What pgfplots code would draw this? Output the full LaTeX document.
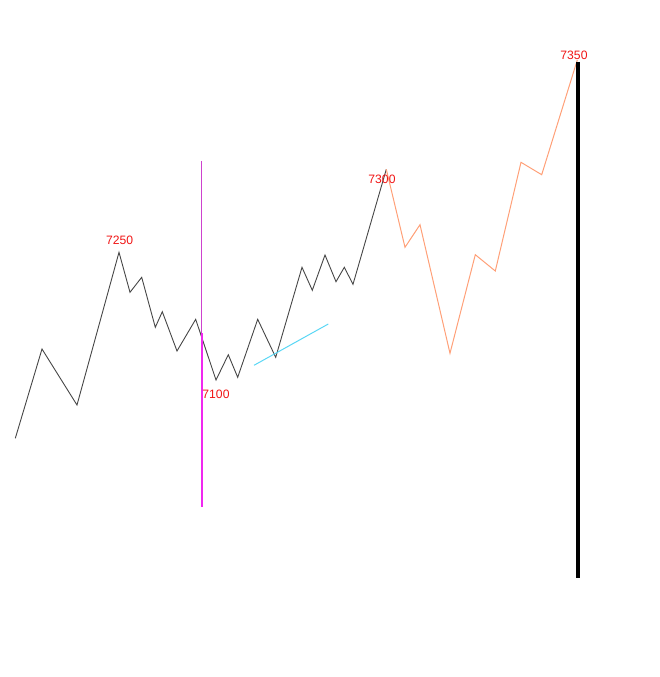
\documentclass[border=0pt]{standalone}
\usepackage{pgfplots}
\pgfplotsset{compat=1.18}
\usepackage{fontspec}
\setmainfont{Liberation Sans}
\definecolor{lblred}{RGB}{240,20,20}
\definecolor{orng}{RGB}{255,160,120}
\definecolor{cyn}{RGB}{90,215,245}
\definecolor{mag}{RGB}{240,40,240}
\definecolor{dgray}{RGB}{70,70,70}
\begin{document}
\begin{tikzpicture}
\begin{axis}[
  width=660bp, height=677bp, scale only axis,
  xmin=0, xmax=660, ymin=0, ymax=677, y dir=reverse,
  hide axis, clip=false,
]
\addplot[draw=none, forget plot] coordinates {(0,0) (660,677)};
% main black line
\addplot[dgray, line width=0.9bp, line join=miter] coordinates {
(15.3,438.3) (42,349) (77,405) (119,252.3) (130,292.3) (141.7,277.3)
(155.3,327.3) (162.3,311.7) (177,351) (195.7,319.3) (216,380)
(228.3,354.7) (237.7,377.3) (257.7,319.3) (275.7,357.3) (302,267.3)
(312.3,290.3) (325,255) (336,281.7) (344.3,267.3) (353,284.3) (386.3,169.3)
};
% orange continuation
\addplot[orng, line width=1bp] coordinates {
(386.3,169.3) (405,247.3) (420,224.7) (450,353.3) (475.3,254.7)
(495.3,271) (521,162.3) (541.7,174.7) (577.3,60)
};
% cyan segment
\addplot[cyn, line width=1bp] coordinates {(254,365.3) (328.3,324)};
% magenta vertical
\addplot[mag!70!gray, line width=0.5bp] coordinates {(201.3,161) (201.3,334)};
\addplot[mag, line width=1.2bp] coordinates {(202,333) (202,507)};
% black thick vertical
\addplot[black, line width=4bp] coordinates {(578,62) (578,578)};
% labels
\node[text=lblred, font=\fontsize{12.2}{14}\selectfont, inner sep=0pt] at (axis cs:119.7,240) {7250};
\node[text=lblred, font=\fontsize{12.2}{14}\selectfont, inner sep=0pt] at (axis cs:382,179.5) {7300};
\node[text=lblred, font=\fontsize{12.2}{14}\selectfont, inner sep=0pt] at (axis cs:216,394) {7100};
\node[text=lblred, font=\fontsize{12.2}{14}\selectfont, inner sep=0pt] at (axis cs:574,55.5) {7350};
\end{axis}
\end{tikzpicture}
\end{document}
